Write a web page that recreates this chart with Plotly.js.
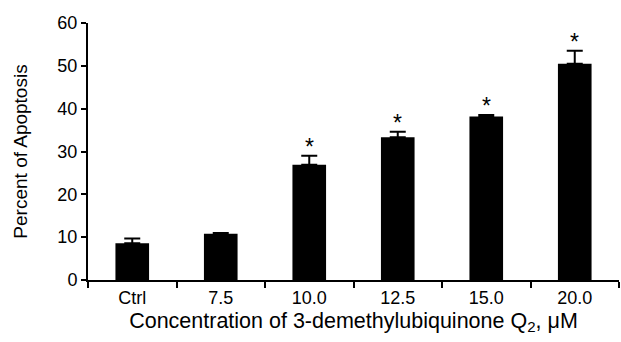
<!DOCTYPE html>
<html>
<head>
<meta charset="utf-8">
<script src="https://cdn.plot.ly/plotly-3.0.1.min.js"></script>
<style>html,body{margin:0;padding:0;background:#fff;}#chart{width:621px;height:342px;}</style>
</head>
<body>
<div id="chart"></div>
<script>
const categories = ["Ctrl", "7.5", "10.0", "12.5", "15.0", "20.0"];
const apoptosis = [8.6, 10.8, 26.9, 33.3, 38.2, 50.5];
const errorUp = [1.1, 0.2, 2.1, 1.3, 0.3, 3.0];
const significant = [false, false, true, true, true, true];

const fam = "Liberation Sans, Arial, sans-serif";
const tickFont = {family: fam, size: 18, color: "#000"};

const trace = {
  type: "bar",
  x: categories,
  y: apoptosis,
  width: 0.38,
  marker: {color: "#000", line: {width: 0}},
  error_y: {type: "data", array: errorUp, arrayminus: errorUp.map(() => 0), symmetric: false,
            color: "#000", thickness: 2, width: 8},
  hoverinfo: "skip"
};

const annotations = [];
categories.forEach((c, i) => {
  if (significant[i]) {
    annotations.push({
      x: i, y: apoptosis[i] + errorUp[i], xref: "x", yref: "y",
      text: "*", showarrow: false, yanchor: "bottom", yshift: -6,
      font: {family: fam, size: 23, color: "#000"}
    });
  }
});

const layout = {
  width: 621, height: 342,
  margin: {l: 88, r: 2, t: 23, b: 62},
  paper_bgcolor: "#fff", plot_bgcolor: "#fff",
  font: tickFont,
  showlegend: false,
  xaxis: {
    type: "category", range: [-0.5, 5.5],
    showline: true, linecolor: "#000", linewidth: 2,
    ticks: "outside", tickson: "boundaries", ticklen: 6, tickwidth: 2, tickcolor: "#000",
    showgrid: false, zeroline: false,
    tickfont: tickFont,
    title: {text: "Concentration of 3-demethylubiquinone Q<sub>2</sub>, μM",
            font: {family: fam, size: 21.5, color: "#000"}, standoff: 6}
  },
  yaxis: {
    range: [0, 60], dtick: 10,
    showline: true, linecolor: "#000", linewidth: 2,
    ticks: "outside", ticklen: 5, tickwidth: 2, tickcolor: "#000",
    showgrid: false, zeroline: false,
    tickfont: tickFont,
    title: {text: "Percent of Apoptosis", font: {family: fam, size: 19, color: "#000"}, standoff: 25}
  },
  annotations: annotations
};

Plotly.newPlot("chart", [trace], layout, {displayModeBar: false, staticPlot: true});
</script>
</body>
</html>
